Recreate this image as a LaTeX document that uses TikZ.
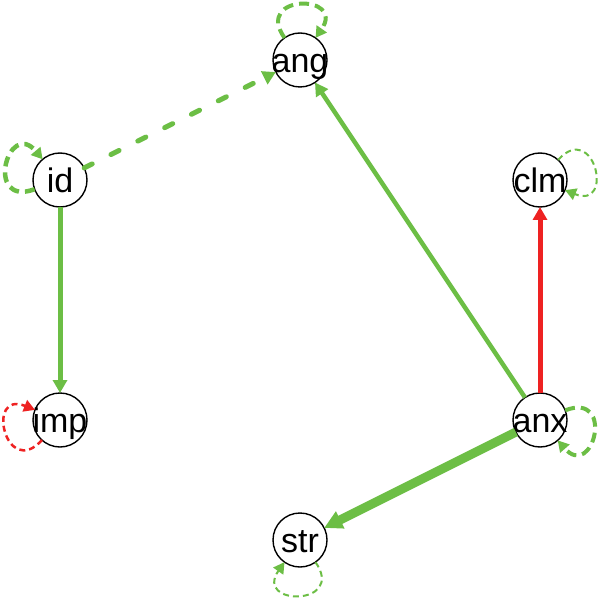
\documentclass[tikz,border=0pt]{standalone}
\usepackage{fontspec}
\setmainfont{Liberation Sans}
\usepackage{tikz}
\usetikzlibrary{arrows.meta}

\definecolor{posgreen}{RGB}{108,190,69}
\definecolor{negred}{RGB}{238,34,34}

\begin{document}
\begin{tikzpicture}[x=1pt, y=-1pt
    , vtx/.style={circle, draw, line width=1.4pt, minimum size=54pt, inner sep=0pt, outer sep=0pt,
        text height=25pt, text depth=0pt, font=\fontsize{34}{34}\selectfont}
    , gline/.style={draw=posgreen, line width=5pt, -{Triangle[length=13pt, width=14pt]}}
    , rline/.style={draw=negred, line width=5pt, -{Triangle[length=13pt, width=14pt]}}
    , selfloop/.style={distance=54pt, -{Triangle[length=11pt, width=12pt]}}
    ]

    \useasboundingbox (0,0) rectangle (600,601);

    \node[vtx] (ang) at (300,60) {\makebox[0pt]{ang}};
    \node[vtx] (id) at (60,180) {\makebox[0pt]{id}};
    \node[vtx] (clm) at (540,180) {\makebox[0pt]{clm}};
    \node[vtx] (imp) at (60,420) {\makebox[0pt]{imp}};
    \node[vtx] (anx) at (540,420) {\makebox[0pt]{anx}};
    \node[vtx] (str) at (300,540) {\makebox[0pt]{str}};

    \draw[gline, line cap=round, dash pattern=on 9pt off 21pt] (id) -- (ang);
    \draw[gline] (id) -- (imp);
    \draw[gline, line width=4.5pt] (anx) -- (ang);
    \draw[rline] (anx) -- (clm);
    \draw[gline, line width=9pt, -{Triangle[length=18pt, width=18pt]}] (anx) -- (str);

    % self loops, pointing away from the middle
    \draw[selfloop, draw=posgreen, line width=4pt, dash pattern=on 10pt off 6pt] (ang) to[out=125, in=55] (ang);
    \draw[selfloop, draw=posgreen, line width=4.5pt, dash pattern=on 10pt off 6pt] (id) to[out=200, in=130] (id);
    \draw[selfloop, draw=posgreen, line width=2pt, dash pattern=on 6pt off 4pt] (clm) to[out=48, in=-22] (clm);
    \draw[selfloop, draw=negred, line width=2.5pt, dash pattern=on 6pt off 4pt] (imp) to[out=228, in=158] (imp);
    \draw[selfloop, draw=posgreen, line width=4pt, dash pattern=on 10pt off 6pt] (anx) to[out=21, in=-49] (anx);
    \draw[selfloop, draw=posgreen, line width=2pt, dash pattern=on 6pt off 4pt] (str) to[out=305, in=235] (str);

\end{tikzpicture}
\end{document}
